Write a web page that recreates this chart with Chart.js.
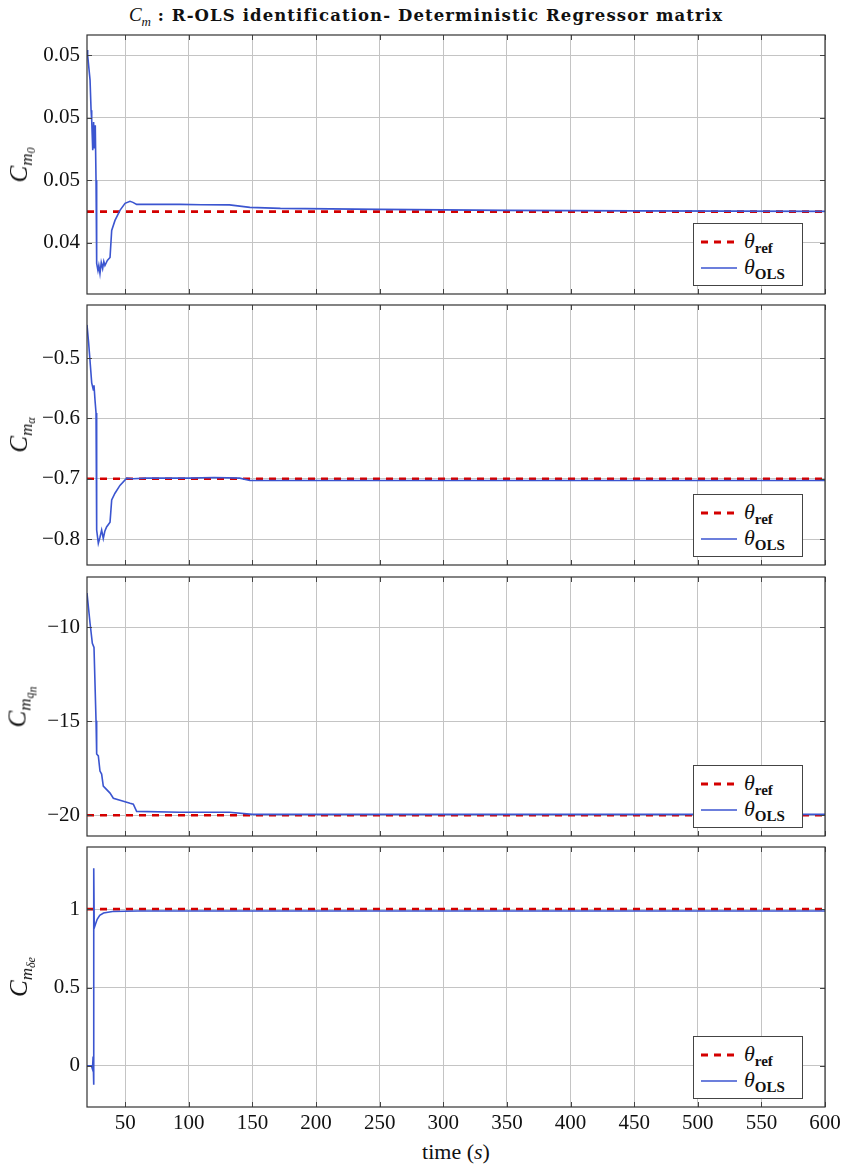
<!DOCTYPE html>
<html>
<head>
<meta charset="utf-8">
<script src="https://cdn.jsdelivr.net/npm/chart.js@4.4.1/dist/chart.umd.min.js"></script>
<style>
  body { margin: 0; background: #fff; }
  #wrap { position: relative; width: 843px; height: 1164px; font-family: "Liberation Serif", serif; color: #111; }
  canvas { position: absolute; left: 0; }
  .ttl { position: absolute; top: 4px; left: 426px; transform: translateX(-50%); white-space: nowrap;
         font-family: "DejaVu Serif", serif; font-size: 16.5px; font-weight: bold; letter-spacing: 1.1px; }
  .ttl i { font-family: "Liberation Serif", serif; font-weight: normal; font-size: 19px; letter-spacing: 0; }
  .ttl sub { font-size: 13px; }
  .ylab { position: absolute; left: 22px; transform: translate(-50%, -50%) rotate(-90deg); white-space: nowrap;
          font-size: 25px; font-style: italic; }
  .ylab sub { font-size: 17px; vertical-align: -5px; }
  .ylab sub sub { font-size: 12px; vertical-align: -3px; }
  .xlab { position: absolute; left: 456px; top: 1139px; transform: translateX(-50%); font-size: 22px; white-space: nowrap; }
  .lg { position: absolute; width: 108px; height: 61px; border: 1px solid #444; background: #fff; }
  .lg svg { position: absolute; left: 7px; }
  .lg span { position: absolute; left: 50px; font-size: 22px; font-style: italic; line-height: 1; }
  .lg span b { font-style: normal; font-size: 15px; vertical-align: -5px; }
</style>
</head>
<body>
<div id="wrap">
  <div class="ttl"><i>C<sub>m</sub></i> : R-OLS identification- Deterministic Regressor matrix</div>
  <div class="xlab">time (<i>s</i>)</div>
</div>
<script>
// shared time axis
var xTicks = [50, 100, 150, 200, 250, 300, 350, 400, 450, 500, 550, 600];
var xMin = 20, xMax = 600;

// panel 1 : Cm0
var t1 = [20, 20.5, 22.4, 23.2, 23.7, 24.5, 25.2, 25.8, 26.5, 27.1, 27.6, 28.6, 29.3, 30.2, 31.2, 32.3, 33.2, 34.1, 36, 38.1, 39.4, 42, 45.9, 49.9, 53.8, 56.1, 59, 93, 110, 132, 148, 172, 250, 350, 450, 600];
var cm0 = [0.04916, 0.0490, 0.0482, 0.04724, 0.04692, 0.04596, 0.04686, 0.04602, 0.04676, 0.0450, 0.042344, 0.04212, 0.04228, 0.042024, 0.042376, 0.042184, 0.042408, 0.04228, 0.04244, 0.042536, 0.0434, 0.04372, 0.04404, 0.044264, 0.044328, 0.044296, 0.044232, 0.044232, 0.04422, 0.044216, 0.044136, 0.044104, 0.044072, 0.04404, 0.044024, 0.044008];
var ref1 = 0.044;

// panel 2 : Cm alpha
var t2 = [20, 21.3, 23.7, 25, 25.5, 26.3, 27.1, 27.6, 28.9, 30.2, 31.5, 32.8, 34, 35.4, 38.1, 39.4, 42, 45.9, 51.2, 56.1, 66.7, 100, 120, 140, 148, 200, 300, 400, 500, 600];
var cma = [-0.445, -0.475, -0.541, -0.553, -0.545, -0.570, -0.591, -0.785, -0.807, -0.797, -0.785, -0.799, -0.787, -0.780, -0.772, -0.735, -0.724, -0.711, -0.699, -0.700, -0.699, -0.699, -0.698, -0.699, -0.703, -0.703, -0.703, -0.703, -0.703, -0.703];
var ref2 = -0.7;

// panel 3 : Cm qn
var t3 = [20, 22.4, 24.2, 25.5, 27.1, 27.6, 28.9, 30.2, 31.5, 32.8, 38.1, 40.7, 48.6, 53.8, 56.4, 59, 93, 132, 150, 300, 450, 600];
var cmq = [-8.18, -9.79, -10.86, -11.07, -14.97, -16.74, -16.84, -17.65, -17.81, -18.45, -18.82, -19.09, -19.25, -19.36, -19.41, -19.79, -19.84, -19.84, -19.95, -19.95, -19.95, -19.95];
var ref3 = -20;

// panel 4 : Cm delta e
var t4 = [20, 23.5, 24.3, 24.8, 25.2, 25.4, 25.7, 26.5, 28, 30, 33, 40, 60, 150, 300, 450, 600];
var cmd = [0.0, 0.0, -0.02, 0.06, -0.12, 1.26, 0.88, 0.90, 0.935, 0.96, 0.975, 0.985, 0.988, 0.988, 0.988, 0.988, 0.988];
var ref4 = 1.0;

// y ticks per panel
var yTicks1 = [0.043, 0.045, 0.047, 0.049];
var yLabels1 = ['0.04', '0.05', '0.05', '0.05'];
var yTicks2 = [-0.8, -0.7, -0.6, -0.5];
var yLabels2 = ['\u22120.8', '\u22120.7', '\u22120.6', '\u22120.5'];
var yTicks3 = [-20, -15, -10];
var yLabels3 = ['\u221220', '\u221215', '\u221210'];
var yTicks4 = [0, 0.5, 1];
var yLabels4 = ['0', '0.5', '1'];

var blue = '#3b55d0';
var red = '#d40000';
Chart.defaults.font.family = 'Liberation Serif';
Chart.defaults.font.size = 21;
Chart.defaults.color = '#111';
var tickFont = { family: 'Liberation Serif', size: 21 };
var wrap = document.getElementById('wrap');
var charts = [];

function pts(t, v) {
  return t.map(function (x, i) { return { x: x, y: v[i] }; });
}

var boxPlugin = {
  id: 'box',
  afterDraw: function (chart) {
    var a = chart.chartArea, ctx = chart.ctx;
    ctx.save();
    ctx.strokeStyle = '#444';
    ctx.lineWidth = 1;
    ctx.beginPath();
    var xs = chart.scales.x, ys = chart.scales.y;
    xs.ticks.forEach(function (tk) {
      var px = Math.round(xs.getPixelForValue(tk.value)) + 0.5;
      ctx.moveTo(px, a.top); ctx.lineTo(px, a.top + 5);
      ctx.moveTo(px, a.bottom); ctx.lineTo(px, a.bottom - 5);
    });
    ys.ticks.forEach(function (tk) {
      var py = Math.round(ys.getPixelForValue(tk.value)) + 0.5;
      ctx.moveTo(a.left, py); ctx.lineTo(a.left + 5, py);
      ctx.moveTo(a.right, py); ctx.lineTo(a.right - 5, py);
    });
    ctx.stroke();
    ctx.strokeStyle = '#333';
    ctx.lineWidth = 1.2;
    ctx.strokeRect(a.left, a.top, a.right - a.left, a.bottom - a.top);
    ctx.restore();
  }
};

// areaTop / areaBottom: page y of the plot box
function makePanel(areaTop, areaBottom, t, v, ref, yMin, yMax, yTicks, yLabels, showX, ylabHtml) {
  var top = areaTop - 5;
  var xh = showX ? 30 : 5;
  var height = areaBottom - areaTop + 5 + xh;
  var cv = document.createElement('canvas');
  cv.width = 843; cv.height = height;
  cv.style.top = top + 'px';
  wrap.appendChild(cv);
  var chart = new Chart(cv, {
    type: 'line',
    data: {
      datasets: [
        { label: 'ref', data: [{ x: xMin, y: ref }, { x: xMax, y: ref }], borderColor: red, borderWidth: 2.6,
          borderDash: [7, 6], pointRadius: 0, fill: false, order: 2 },
        { label: 'OLS', data: pts(t, v), borderColor: blue, borderWidth: 1.6, pointRadius: 0,
          fill: false, tension: 0, order: 1 }
      ]
    },
    options: {
      responsive: false,
      animation: false,
      layout: { padding: { left: 0, right: 18, top: 5, bottom: 0 } },
      plugins: { legend: { display: false }, tooltip: { enabled: false } },
      scales: {
        x: {
          type: 'linear', min: xMin, max: xMax,
          afterBuildTicks: function (s) { s.ticks = xTicks.map(function (x) { return { value: x }; }); },
          afterFit: function (s) { s.height = xh; s.paddingLeft = 0; s.paddingRight = 0; },
          grid: { color: '#c4c4c4', lineWidth: 1, drawTicks: false },
          border: { display: false },
          ticks: { display: showX, padding: 4, color: '#111', maxRotation: 0, font: tickFont }
        },
        y: {
          min: yMin, max: yMax,
          afterBuildTicks: function (s) { s.ticks = yTicks.map(function (x) { return { value: x }; }); },
          afterFit: function (s) { s.width = 87; s.paddingTop = 0; s.paddingBottom = 0; },
          grid: { color: '#c4c4c4', lineWidth: 1, drawTicks: false },
          border: { display: false },
          ticks: { padding: 7, color: '#111', font: tickFont,
                   callback: function (val, i) { return yLabels[i]; } }
        }
      }
    },
    plugins: [boxPlugin]
  });
  charts.push(chart);

  var a = chart.chartArea;
  // axis label
  var yl = document.createElement('div');
  yl.className = 'ylab';
  yl.style.top = (top + (a.top + a.bottom) / 2) + 'px';
  yl.innerHTML = ylabHtml;
  wrap.appendChild(yl);
  // legend inside the axes, bottom right
  var lg = document.createElement('div');
  lg.className = 'lg';
  lg.style.left = (a.right - 22 - 110) + 'px';
  lg.style.top = (top + a.bottom - 8 - 63) + 'px';
  lg.innerHTML =
    '<svg width="36" height="6" style="top:15px"><line x1="0" y1="3" x2="36" y2="3" stroke="' + red + '" stroke-width="3" stroke-dasharray="7 6"/></svg>' +
    '<span style="top:6px">\u03b8<b>ref</b></span>' +
    '<svg width="36" height="6" style="top:41px"><line x1="0" y1="3" x2="36" y2="3" stroke="' + blue + '" stroke-width="1.6"/></svg>' +
    '<span style="top:32px">\u03b8<b>OLS</b></span>';
  wrap.appendChild(lg);
  return chart;
}

makePanel(35, 294, t1, cm0, ref1, 0.04137, 0.04964, yTicks1, yLabels1, false, 'C<sub>m<sub>0</sub></sub>');
makePanel(305, 565, t2, cma, ref2, -0.843, -0.412, yTicks2, yLabels2, false, 'C<sub>m<sub>\u03b1</sub></sub>');
makePanel(577, 836, t3, cmq, ref3, -21.1, -7.33, yTicks3, yLabels3, false, 'C<sub>m<sub>q<sub>n</sub></sub></sub>');
makePanel(847, 1107, t4, cmd, ref4, -0.262, 1.396, yTicks4, yLabels4, true, 'C<sub>m<sub>\u03b4e</sub></sub>');

// redraw once the serif face is surely available to the canvas
if (document.fonts && document.fonts.load) {
  document.fonts.load('21px "Liberation Serif"').then(function () {
    charts.forEach(function (c) { c.update(); });
  });
}
</script>
</body>
</html>
